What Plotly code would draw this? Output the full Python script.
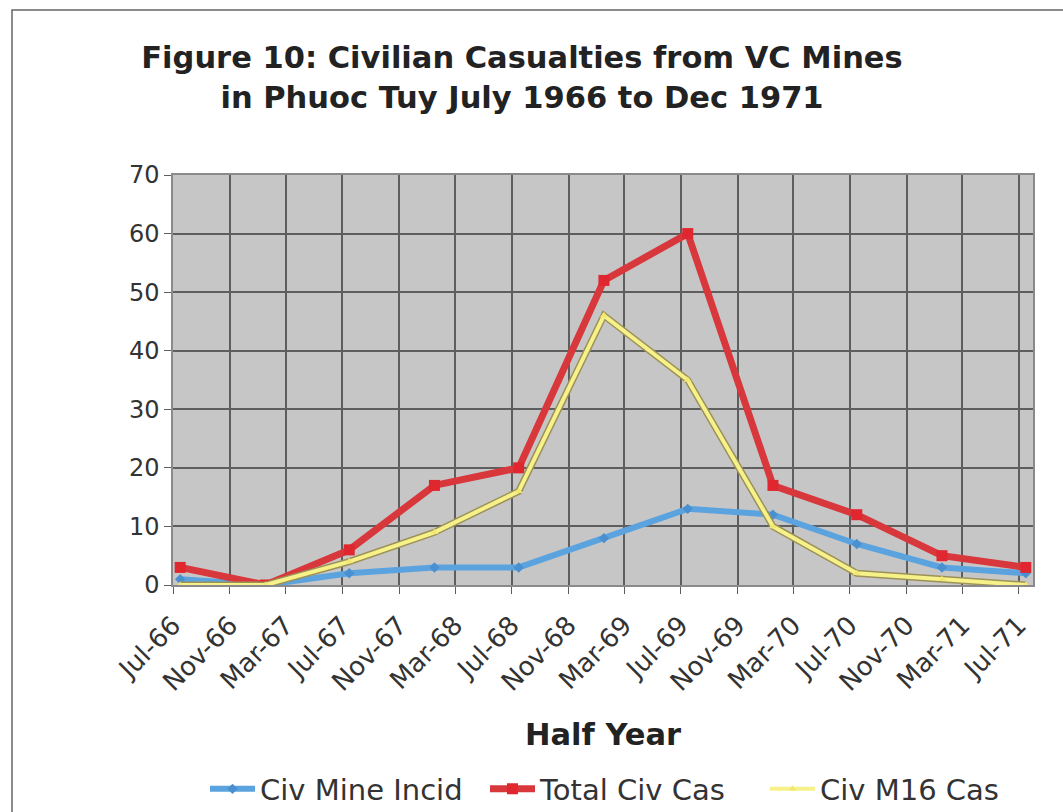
import plotly.graph_objects as go

# Half-year periods (month of each data point)
periods = ["1966-07", "1967-01", "1967-07", "1968-01", "1968-07", "1969-01",
           "1969-07", "1970-01", "1970-07", "1971-01", "1971-07"]
civ_mine_incid = [1, 0, 2, 3, 3, 8, 13, 12, 7, 3, 2]
total_civ_cas = [3, 0, 6, 17, 20, 52, 60, 17, 12, 5, 3]
civ_m16_cas = [0, 0, 4, 9, 16, 46, 35, 10, 2, 1, 0]

title_lines = ["Figure 10: Civilian Casualties from VC Mines",
               "in Phuoc Tuy July 1966 to Dec 1971"]
x_title = "Half Year"
names = ["Civ Mine Incid", "Total Civ Cas", "Civ M16 Cas"]

per = dict(xperiod="M1", xperiodalignment="middle")

fig = go.Figure()
# blue
fig.add_trace(go.Scatter(x=periods, y=civ_mine_incid, name=names[0], mode="lines+markers",
                         line=dict(color="#5ba3df", width=6),
                         marker=dict(symbol="diamond", size=8, color="#4a90d0"), **per))
# red
fig.add_trace(go.Scatter(x=periods, y=total_civ_cas, name=names[1], mode="lines+markers",
                         line=dict(color="#d8373c", width=7),
                         marker=dict(symbol="square", size=11, color="#e0262e"), **per))
# yellow outline underlay
fig.add_trace(go.Scatter(x=periods, y=civ_m16_cas, mode="lines", showlegend=False,
                         hoverinfo="skip", line=dict(color="#9c9258", width=7), **per))
fig.add_trace(go.Scatter(x=periods, y=civ_m16_cas, name=names[2], mode="lines+markers",
                         line=dict(color="#f7f189", width=4),
                         marker=dict(symbol="triangle-up", size=7, color="#f0e870"), **per))

W, H = 1063, 812
L, R, T, B = 173, 30, 175, 227
pw, ph = W - L - R, H - T - B

fig.update_layout(
    width=W, height=H,
    paper_bgcolor="white", plot_bgcolor="#c6c6c6",
    margin=dict(l=L, r=R, t=T, b=B, autoexpand=False),
    font=dict(family="DejaVu Sans", size=24, color="#333333"),
    title=dict(text="<b>" + title_lines[0] + "<br>" + title_lines[1] + "</b>",
               x=522 / W, xanchor="center", y=1 - 68 / H, yanchor="middle",
               font=dict(family="DejaVu Sans", size=30.5, color="#222222")),
    showlegend=True,
    legend=dict(orientation="h", x=(205 - L) / pw, xanchor="left",
                y=(T + ph - 789) / ph, yanchor="middle",
                font=dict(family="DejaVu Sans", size=29, color="#333333"),
                itemwidth=45, entrywidth=220, entrywidthmode="pixels",
                tracegroupgap=0, bgcolor="rgba(0,0,0,0)"),
    shapes=[dict(type="rect", xref="paper", yref="paper",
                 x0=(12 - L) / pw, x1=(1070 - L) / pw,
                 y0=(T + ph - 820) / ph, y1=(T + ph - 10) / ph,
                 line=dict(color="#666666", width=1.5), fillcolor="rgba(0,0,0,0)", layer="below")],
)

fig.update_xaxes(
    type="date", range=["1966-07-01", "1971-08-01"],
    tick0="1966-07-01", dtick="M4", tickformat="%b-%y", tickangle=-45,
    showgrid=True, gridcolor="#5e5e5e", gridwidth=1.5,
    ticks="outside", ticklen=7, tickcolor="#5e5e5e",
    showline=True, linecolor="#8a8a8a", linewidth=1.5, mirror=True,
    ticklabelstandoff=6,
    tickfont=dict(family="DejaVu Sans", size=26, color="#333333"),
    title=dict(text="<b>" + x_title + "</b>", standoff=28,
               font=dict(family="DejaVu Sans", size=30.5, color="#222222")),
)
fig.update_yaxes(
    range=[0, 70], dtick=10, tick0=0,
    showgrid=True, gridcolor="#5e5e5e", gridwidth=1.5,
    ticks="outside", ticklen=7, tickcolor="#5e5e5e",
    showline=True, linecolor="#8a8a8a", linewidth=1.5, mirror=True,
    zeroline=False,
    tickfont=dict(family="DejaVu Sans", size=24, color="#333333"),
)

fig.write_html("out.html", config={"displayModeBar": False},
               post_script="document.body.style.margin='0';")
